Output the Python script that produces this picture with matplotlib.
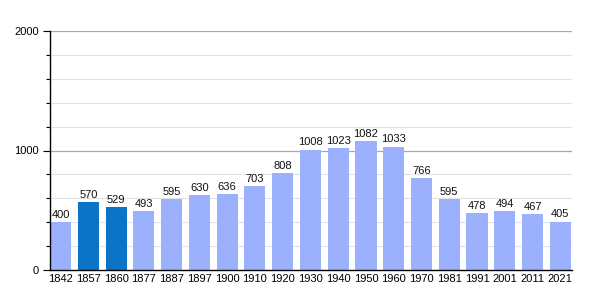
import matplotlib
matplotlib.use("Agg")
import matplotlib.pyplot as plt
from matplotlib.ticker import MultipleLocator

plt.rcParams["font.family"] = ["Liberation Sans", "DejaVu Sans"]

years = ["1842", "1857", "1860", "1877", "1887", "1897", "1900", "1910", "1920", "1930",
         "1940", "1950", "1960", "1970", "1981", "1991", "2001", "2011", "2021"]
population = [400, 570, 529, 493, 595, 630, 636, 703, 808, 1008,
              1023, 1082, 1033, 766, 595, 478, 494, 467, 405]
highlight = ["1857", "1860"]

light = "#9bb1fe"
dark = "#0b74c6"

fig = plt.figure(figsize=(6, 3), dpi=100)
ax = fig.add_axes([50/600, 30/300, 522/600, 239/300])

x = list(range(len(years)))
colors = [dark if y in highlight else light for y in years]
ax.bar(x, population, width=0.76, color=colors, zorder=2)

for xi, v in zip(x, population):
    ax.text(xi, v + 18, str(v), ha="center", va="bottom", fontsize=8, color="#111111", zorder=3)

ax.set_xlim(-0.38, 18.42)
ax.set_ylim(0, 2000)
ax.set_xticks(x)
ax.set_xticklabels(years, fontsize=8)
ax.tick_params(axis="x", length=0, pad=3)
ax.yaxis.set_major_locator(MultipleLocator(1000))
ax.yaxis.set_minor_locator(MultipleLocator(200))
ax.tick_params(axis="y", which="major", length=5, width=0.8, labelsize=8, pad=3)
ax.tick_params(axis="y", which="minor", length=3, width=0.8)

for yv in range(200, 2001, 200):
    if yv % 1000 == 0:
        ax.axhline(yv, color="#a8a8a8", lw=0.9, zorder=1)
    else:
        ax.axhline(yv, color="#e2e2e2", lw=0.8, zorder=1)

for s in ["top", "right"]:
    ax.spines[s].set_visible(False)
ax.spines["left"].set_linewidth(1.0)
ax.spines["bottom"].set_linewidth(1.0)

fig.savefig("out.png", dpi=100)
